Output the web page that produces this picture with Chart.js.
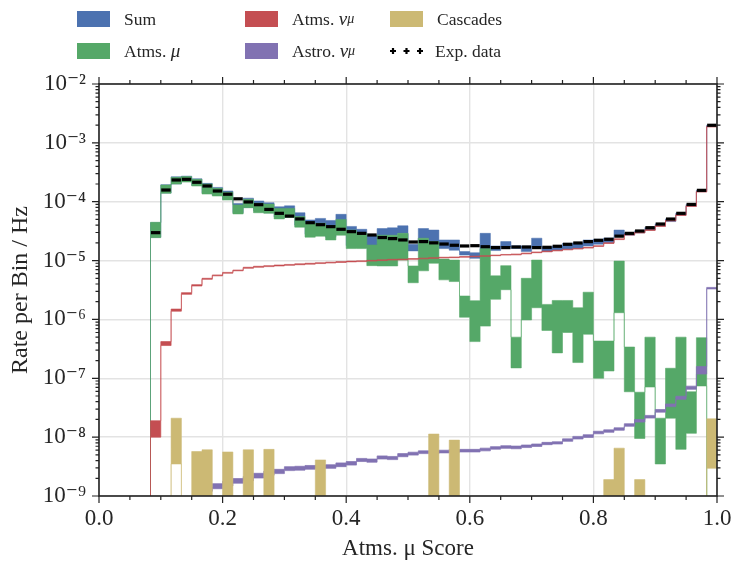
<!DOCTYPE html>
<html>
<head>
<meta charset="utf-8">
<title>Atms. μ Score</title>
<script src="https://cdn.jsdelivr.net/npm/chart.js@4.4.1/dist/chart.umd.min.js"></script>
<style>
  html, body { margin: 0; padding: 0; background: #fff; }
  #wrap { position: relative; width: 734px; height: 566px; }
  #plot { position: absolute; left: 0; top: 0; }
  .legend { position: absolute; left: 0; top: 0; width: 734px; height: 70px;
            font-family: 'Liberation Serif', serif; font-size: 17.5px; color: #262626; }
  .item { position: absolute; display: flex; align-items: center; height: 20px; white-space: nowrap; }
  .swatch { width: 33px; height: 16px; margin-right: 14px; }
  .marker { width: 33px; height: 16px; margin-right: 12px; }
  .nu { font-size: 19px; }
  sub { font-size: 80%; vertical-align: -0.4em; line-height: 0; }
</style>
</head>
<body>
<div id="wrap">
  <canvas id="plot" width="734" height="566"></canvas>
  <div class="legend">
    <div class="item" style="left:77px; top:9px"><span class="swatch" style="background:#4C72B0"></span>Sum</div>
    <div class="item" style="left:77px; top:41px"><span class="swatch" style="background:#55A868"></span>Atms.&nbsp;<i class="nu">μ</i></div>
    <div class="item" style="left:245px; top:9px"><span class="swatch" style="background:#C44E52"></span>Atms.&nbsp;<i class="nu">ν</i><sub><i>μ</i></sub></div>
    <div class="item" style="left:245px; top:41px"><span class="swatch" style="background:#8172B2"></span>Astro.&nbsp;<i class="nu">ν</i><sub><i>μ</i></sub></div>
    <div class="item" style="left:390px; top:9px"><span class="swatch" style="background:#CCB974"></span>Cascades</div>
    <div class="item" style="left:390px; top:41px">
      <svg class="marker" viewBox="0 0 33 16">
        <path d="M0 8h6M3 5v6M13.5 8h6M16.5 5v6M27 8h6M30 5v6" stroke="#000" stroke-width="2.2"/>
      </svg>Exp. data</div>
  </div>
</div>
<script>
// 60 equal bins on the score axis; a 0 means the bin is empty
const N_BINS = 60;
const binEdges = Array.from({ length: N_BINS + 1 }, (_, i) => i / N_BINS);

const xTickValues = [0, 0.2, 0.4, 0.6, 0.8, 1.0];
const xTickLabels = ['0.0', '0.2', '0.4', '0.6', '0.8', '1.0'];
const yTickValues = [1e-9, 1e-8, 1e-7, 1e-6, 1e-5, 1e-4, 1e-3, 1e-2];
const yTickLabels = ['10⁻⁹', '10⁻⁸', '10⁻⁷', '10⁻⁶', '10⁻⁵', '10⁻⁴', '10⁻³', '10⁻²'];

// measured rate per bin
const expData = [
  null, null, null, null, null,
  2.98e-5, 1.58e-4, 2.34e-4, 2.40e-4, 2.14e-4, 1.85e-4, 1.52e-4, 1.34e-4, 1.12e-4, 9.9e-5,
  8.9e-5, 7.4e-5, 6.35e-5, 5.7e-5, 5.1e-5, 4.4e-5, 4.07e-5, 3.77e-5, 3.4e-5, 3.1e-5,
  2.9e-5, 2.72e-5, 2.46e-5, 2.36e-5, 2.24e-5, 2.07e-5, 2.1e-5, 2.0e-5, 1.91e-5, 1.82e-5,
  1.77e-5, 1.79e-5, 1.72e-5, 1.66e-5, 1.66e-5, 1.70e-5, 1.70e-5, 1.66e-5, 1.68e-5, 1.75e-5,
  1.89e-5, 1.99e-5, 2.1e-5, 2.21e-5, 2.3e-5, 2.6e-5, 2.9e-5, 3.18e-5, 3.62e-5, 4.18e-5,
  5.08e-5, 6.35e-5, 9.0e-5, 1.56e-4, 1.99e-3
];

// total simulation, lower / upper edge of the uncertainty band
const sumLo = [
  0, 0, 0, 0, 0,
  2.5e-5, 1.4e-4, 2.0e-4, 2.2e-4, 1.9e-4, 1.4e-4, 1.3e-4, 1.1e-4, 6.5e-5, 8.0e-5,
  7.0e-5, 6.5e-5, 5.5e-5, 5.5e-5, 4.0e-5, 2.8e-5, 2.8e-5, 2.5e-5, 3.0e-5, 1.8e-5,
  1.8e-5, 1.84e-5, 1.5e-5, 2.7e-5, 2.9e-5, 1.46e-5, 2.4e-5, 2.1e-5, 1.6e-5, 1.5e-5,
  1.24e-5, 1.09e-5, 1.6e-5, 1.48e-5, 1.72e-5, 1.6e-5, 1.42e-5, 1.72e-5, 1.42e-5, 1.5e-5,
  1.55e-5, 1.6e-5, 1.77e-5, 1.9e-5, 2.0e-5, 2.55e-5, 2.7e-5, 2.95e-5, 3.3e-5, 3.85e-5,
  4.6e-5, 5.9e-5, 8.4e-5, 1.48e-4, 1.93e-3
];
const sumHi = [
  0, 0, 0, 0, 0,
  4.4e-5, 1.95e-4, 2.65e-4, 2.72e-4, 2.45e-4, 2.05e-4, 1.75e-4, 1.52e-4, 9.3e-5, 1.15e-4,
  1.03e-4, 9.6e-5, 8.2e-5, 8.5e-5, 6.5e-5, 4.9e-5, 5.2e-5, 4.8e-5, 6.1e-5, 3.8e-5,
  3.4e-5, 2.7e-5, 3.5e-5, 3.6e-5, 3.9e-5, 1.9e-5, 3.5e-5, 3.3e-5, 2.24e-5, 2.24e-5,
  1.42e-5, 1.36e-5, 2.9e-5, 1.77e-5, 2.1e-5, 1.78e-5, 1.77e-5, 2.4e-5, 1.72e-5, 1.77e-5,
  1.96e-5, 2.0e-5, 2.24e-5, 2.3e-5, 2.42e-5, 3.3e-5, 2.95e-5, 3.2e-5, 3.65e-5, 4.2e-5,
  5.1e-5, 6.4e-5, 9.0e-5, 1.56e-4, 2.0e-3
];

// atmospheric muons
const muLo = [
  0, 0, 0, 0, 0,
  2.45e-5, 1.39e-4, 2.0e-4, 2.16e-4, 1.85e-4, 1.35e-4, 1.25e-4, 1.07e-4, 6.2e-5, 7.9e-5,
  6.5e-5, 6.35e-5, 5.1e-5, 5.4e-5, 3.7e-5, 2.5e-5, 2.6e-5, 2.24e-5, 2.7e-5, 1.6e-5,
  1.6e-5, 8.2e-6, 8.1e-6, 8.1e-6, 1.02e-5, 4.2e-6, 6.7e-6, 9.0e-6, 4.7e-6, 4.4e-6,
  1.09e-6, 4.2e-7, 7.7e-7, 2.2e-6, 3.2e-6, 1.5e-7, 9.8e-7, 1.58e-6, 6.5e-7, 2.7e-7,
  6.0e-7, 1.85e-7, 5.6e-7, 1.0e-7, 1.33e-7, 1.3e-6, 5.9e-8, 9.5e-9, 7.1e-8, 3.5e-9,
  2.1e-8, 6.2e-9, 1.16e-8, 7.4e-8, 0
];
const muHi = [
  0, 0, 0, 0, 0,
  4.47e-5, 1.92e-4, 2.6e-4, 2.67e-4, 2.4e-4, 2.0e-4, 1.69e-4, 1.45e-4, 8.8e-5, 1.1e-4,
  9.4e-5, 9.1e-5, 7.7e-5, 7.7e-5, 5.6e-5, 4.3e-5, 4.3e-5, 3.9e-5, 5.0e-5, 3.3e-5,
  2.9e-5, 1.84e-5, 2.7e-5, 2.7e-5, 2.9e-5, 8.1e-6, 2.4e-5, 2.1e-5, 1.06e-5, 1.02e-5,
  2.5e-6, 2.08e-6, 1.6e-5, 5.5e-6, 8.2e-6, 5.0e-7, 5.0e-6, 1.02e-5, 1.8e-6, 2.1e-6,
  2.1e-6, 1.58e-6, 2.9e-6, 4.3e-7, 4.3e-7, 9.8e-6, 3.4e-7, 5.8e-8, 5.0e-7, 2.1e-8,
  1.48e-7, 5.0e-7, 5.9e-8, 4.9e-7, 0
];

// atmospheric muon neutrinos
const numuLo = [
  0, 0, 0, 0, 0,
  1.0e-8, 3.6e-7, 1.38e-6, 2.67e-6, 3.7e-6, 4.8e-6, 5.5e-6, 6.1e-6, 6.7e-6, 7.4e-6,
  7.7e-6, 7.9e-6, 8.1e-6, 8.3e-6, 8.5e-6, 8.7e-6, 8.9e-6, 9.1e-6, 9.3e-6, 9.5e-6,
  9.6e-6, 9.8e-6, 1.0e-5, 1.02e-5, 1.03e-5, 1.05e-5, 1.07e-5, 1.09e-5, 1.11e-5, 1.12e-5,
  1.14e-5, 1.16e-5, 1.18e-5, 1.21e-5, 1.24e-5, 1.25e-5, 1.30e-5, 1.36e-5, 1.41e-5, 1.46e-5,
  1.52e-5, 1.57e-5, 1.63e-5, 1.74e-5, 1.95e-5, 2.27e-5, 2.71e-5, 2.94e-5, 3.25e-5, 3.81e-5,
  4.70e-5, 5.85e-5, 8.33e-5, 1.46e-4, 1.86e-3
];
const numuHi = [
  0, 0, 0, 0, 0,
  1.9e-8, 4.2e-7, 1.5e-6, 2.85e-6, 3.9e-6, 5.0e-6, 5.7e-6, 6.3e-6, 6.9e-6, 7.7e-6,
  8.0e-6, 8.2e-6, 8.4e-6, 8.6e-6, 8.8e-6, 9.0e-6, 9.2e-6, 9.4e-6, 9.6e-6, 9.8e-6,
  9.9e-6, 1.01e-5, 1.03e-5, 1.05e-5, 1.06e-5, 1.08e-5, 1.10e-5, 1.12e-5, 1.14e-5, 1.15e-5,
  1.17e-5, 1.19e-5, 1.21e-5, 1.24e-5, 1.27e-5, 1.29e-5, 1.34e-5, 1.40e-5, 1.45e-5, 1.50e-5,
  1.56e-5, 1.61e-5, 1.68e-5, 1.79e-5, 2.01e-5, 2.34e-5, 2.79e-5, 3.03e-5, 3.35e-5, 3.93e-5,
  4.85e-5, 6.03e-5, 8.58e-5, 1.50e-4, 1.91e-3
];

// astrophysical muon neutrinos
const astroLo = [
  0, 0, 0, 0, 0,
  0, 0, 0, 0, 0, 1.2e-9, 1.33e-9, 1.48e-9, 1.65e-9, 1.82e-9,
  2.02e-9, 2.25e-9, 2.4e-9, 2.7e-9, 2.75e-9, 2.85e-9, 2.95e-9, 2.95e-9, 3.15e-9, 3.35e-9,
  3.85e-9, 3.75e-9, 4.25e-9, 4.15e-9, 4.65e-9, 4.95e-9, 5.25e-9, 5.25e-9, 5.4e-9, 5.55e-9,
  5.6e-9, 5.6e-9, 5.85e-9, 6.25e-9, 6.45e-9, 6.35e-9, 6.65e-9, 6.95e-9, 7.45e-9, 7.65e-9,
  8.5e-9, 9.3e-9, 9.9e-9, 1.14e-8, 1.21e-8, 1.31e-8, 1.53e-8, 1.8e-8, 2.11e-8, 2.66e-8,
  3.3e-8, 4.4e-8, 6.5e-8, 1.18e-7, 3.3e-6
];
const astroHi = [
  0, 0, 0, 0, 0,
  0, 0, 0, 0, 0, 1.42e-9, 1.62e-9, 1.78e-9, 1.98e-9, 2.14e-9,
  2.43e-9, 2.64e-9, 2.84e-9, 3.15e-9, 3.2e-9, 3.3e-9, 3.35e-9, 3.4e-9, 3.65e-9, 3.85e-9,
  4.35e-9, 4.25e-9, 4.8e-9, 4.7e-9, 5.25e-9, 5.55e-9, 5.85e-9, 5.85e-9, 6.0e-9, 6.15e-9,
  6.2e-9, 6.2e-9, 6.5e-9, 6.9e-9, 7.15e-9, 7.05e-9, 7.35e-9, 7.65e-9, 8.15e-9, 8.35e-9,
  9.35e-9, 1.03e-8, 1.1e-8, 1.26e-8, 1.33e-8, 1.44e-8, 1.69e-8, 1.99e-8, 2.34e-8, 2.95e-8,
  3.66e-8, 4.95e-8, 7.35e-8, 1.58e-7, 3.5e-6
];

// cascades
const cascLo = [
  0, 0, 0, 0, 0,
  0, 0, 3.5e-9, 0, 0, 0, 0, 0, 0, 0,
  0, 0, 0, 0, 0, 0, 0, 0, 0, 0,
  0, 0, 0, 0, 0, 0, 0, 0, 0, 0,
  0, 0, 0, 0, 0, 0, 0, 0, 0, 0,
  0, 0, 0, 0, 0, 0, 0, 0, 0, 0,
  0, 0, 0, 0, 2.95e-9
];
const cascHi = [
  0, 0, 0, 0, 0,
  0, 0, 2.1e-8, 0, 5.7e-9, 6.1e-9, 0, 5.6e-9, 0, 6.1e-9,
  0, 6.2e-9, 0, 0, 0, 0, 4.1e-9, 0, 0, 0,
  0, 0, 0, 0, 0, 0, 0, 1.13e-8, 0, 8.9e-9,
  0, 0, 0, 0, 0, 0, 0, 0, 0, 0,
  0, 0, 0, 0, 1.9e-9, 6.5e-9, 0, 1.9e-9, 0, 0,
  0, 0, 0, 0, 2.05e-8
];

const SERIF = "'Liberation Serif', 'DejaVu Serif', serif";
const TEXT = '#262626';
const FLOOR = 1e-11; // empty bins fall below the visible range

// histogram edges: value of bin i is held from edge i to edge i+1
function stepPoints(values) {
  const pts = values.map((v, i) => ({ x: binEdges[i], y: v > 0 ? v : FLOOR }));
  pts.push({ x: binEdges[N_BINS], y: pts[pts.length - 1].y });
  return pts;
}

function band(lo, hi, fillColor, lineColor, order) {
  const common = {
    type: 'line', stepped: true, pointRadius: 0, borderWidth: 1,
    borderColor: lineColor, order: order
  };
  return [
    Object.assign({}, common, { data: stepPoints(lo), fill: false }),
    Object.assign({}, common, { data: stepPoints(hi), fill: '-1', backgroundColor: fillColor })
  ];
}

const expPoints = [];
expData.forEach((v, i) => {
  if (v !== null) expPoints.push({ x: (binEdges[i] + binEdges[i + 1]) / 2, y: v });
});

const datasets = [].concat(
  band(sumLo, sumHi, '#4C72B0', 'rgba(76,114,176,0.5)', 6),
  band(muLo, muHi, '#55A868', 'rgba(85,168,104,0.55)', 5),
  band(numuLo, numuHi, '#C44E52', 'rgba(196,78,82,0.65)', 4),
  band(astroLo, astroHi, '#8172B2', 'rgba(129,114,178,0.7)', 3),
  band(cascLo, cascHi, '#CCB974', 'rgba(204,185,116,0.55)', 2),
  [{
    type: 'line', data: expPoints, showLine: false, order: 0,
    pointStyle: 'line', pointRadius: 4.7, pointBorderWidth: 3.2,
    borderColor: '#000', pointBorderColor: '#000'
  }]
);

// frame around the plot with outward major / minor tick marks
const frame = {
  id: 'frame',
  afterDatasetsDraw(chart) {
    const { ctx, chartArea: a, scales: { x, y } } = chart;
    ctx.save();
    ctx.strokeStyle = '#222';
    ctx.lineWidth = 1.2;
    ctx.beginPath();
    for (let i = 0; i <= 20; i++) {
      const px = x.getPixelForValue(i / 20);
      const len = i % 4 === 0 ? 7 : 4;
      ctx.moveTo(px, a.bottom); ctx.lineTo(px, a.bottom + len);
      ctx.moveTo(px, a.top); ctx.lineTo(px, a.top - len);
    }
    for (let d = -9; d <= -2; d++) {
      for (let m = 1; m <= 9; m++) {
        if (d === -2 && m > 1) break;
        const py = y.getPixelForValue(m * Math.pow(10, d));
        const len = m === 1 ? 7 : 3.5;
        ctx.moveTo(a.left, py); ctx.lineTo(a.left - len, py);
        ctx.moveTo(a.right, py); ctx.lineTo(a.right + len, py);
      }
    }
    ctx.stroke();
    ctx.lineWidth = 1.6;
    ctx.strokeRect(a.left, a.top, a.right - a.left, a.bottom - a.top);
    ctx.restore();
  }
};

new Chart(document.getElementById('plot'), {
  type: 'line',
  data: { datasets: datasets },
  options: {
    responsive: false,
    animation: false,
    events: [],
    layout: { padding: { top: 84, right: 17, left: 0, bottom: 0 } },
    plugins: { legend: { display: false }, tooltip: { enabled: false } },
    scales: {
      x: {
        type: 'linear', min: 0, max: 1,
        afterBuildTicks: s => { s.ticks = xTickValues.map(v => ({ value: v })); },
        afterFit: s => { s.height = 70; s.paddingLeft = 0; s.paddingRight = 0; },
        ticks: {
          callback: (v, i) => xTickLabels[i],
          font: { family: SERIF, size: 23 }, color: TEXT, padding: 9, maxRotation: 0
        },
        grid: { color: '#e3e3e3', lineWidth: 1.4, drawTicks: false },
        border: { display: false },
        title: {
          display: true, text: 'Atms. μ Score',
          font: { family: SERIF, size: 23 }, color: TEXT, padding: { bottom: 3 }
        }
      },
      y: {
        type: 'logarithmic', min: 1e-9, max: 1e-2,
        afterBuildTicks: s => { s.ticks = yTickValues.map(v => ({ value: v })); },
        afterFit: s => { s.width = 99; s.paddingTop = 0; s.paddingBottom = 0; },
        ticks: {
          callback: (v, i) => yTickLabels[i],
          font: { family: SERIF, size: 23 }, color: TEXT, padding: 13
        },
        grid: { color: '#e3e3e3', lineWidth: 1.4, drawTicks: false },
        border: { display: false },
        title: {
          display: true, text: 'Rate per Bin / Hz',
          font: { family: SERIF, size: 24 }, color: TEXT, padding: { top: 6 }
        }
      }
    }
  },
  plugins: [frame]
});
</script>
</body>
</html>
